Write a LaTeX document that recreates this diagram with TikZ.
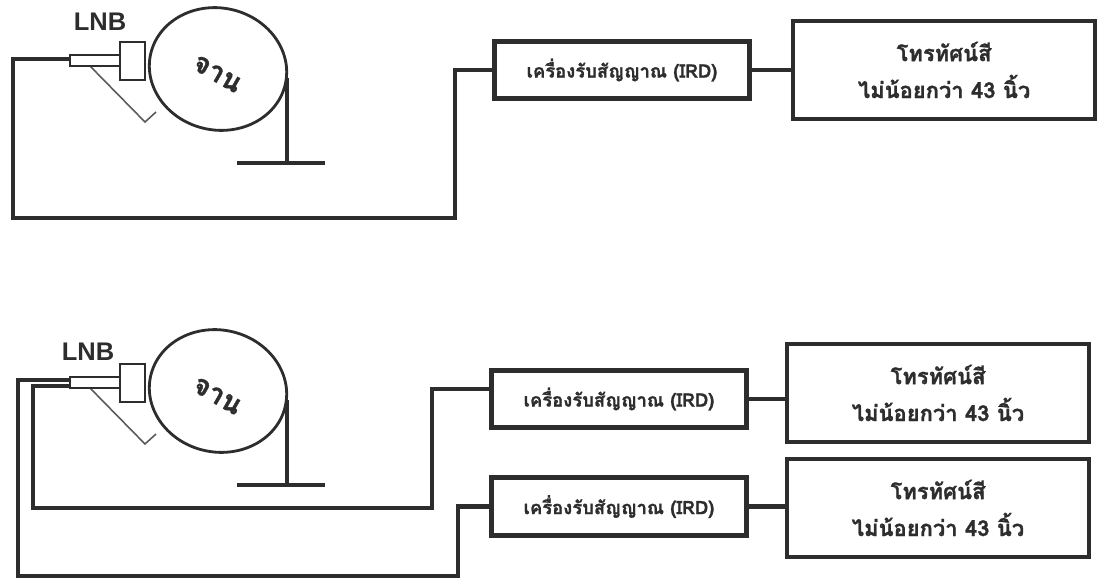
\documentclass[tikz,border=0pt]{standalone}
\usepackage{fontspec}
\setmainfont{Liberation Sans}
\newfontfamily\thaifont[Script=Thai, BoldFeatures={FakeBold=1.2}]{Loma}
\usetikzlibrary{positioning}
\definecolor{mydarkgrey}{RGB}{45, 45, 45}
\definecolor{mymidgrey}{RGB}{90, 90, 90}

\begin{document}
\begin{tikzpicture}[x = 0.02cm, y = -0.02cm, mydarkgrey,
  cable/.style = {line width = 2.4pt},
  irdbox/.style = {draw, line width = 2.9pt, minimum width = 5.1cm, minimum height = 1.15cm, inner sep = 0pt, font = \thaifont\bfseries\fontsize{10.5}{12}\selectfont},
  tvbox/.style = {draw, line width = 2.1pt, minimum width = 6.05cm, minimum height = 1.95cm, align = center, font = \thaifont\bfseries\fontsize{12.5}{21}\selectfont},
  lnblabel/.style = {font = \bfseries\fontsize{14.5}{16}\selectfont, inner sep = 0pt}]

  \useasboundingbox (0,0) rectangle (1099,581);

  % dishes
  \foreach \dy/\tag in {0/top, 322/bot} {
    \begin{scope}[shift = {(0,\dy)}]
      \draw[line width = 1.6pt, rotate around = {-12:(218,69)}] (218,69) ellipse [x radius = 69, y radius = 61];
      \node[rotate = -30, inner sep = 0pt, font = \thaifont\bfseries\fontsize{16}{17}\selectfont] (dish-\tag) at (217,74) {จาน};
      \draw[line width = 2.4pt] (287,78) -- (287,163);
      \draw[line width = 2.4pt] (237,163) -- (325,163);
      \draw[mymidgrey, line width = 0.9pt] (90,66) -- (145,122) -- (156,112);
      \draw[line width = 1.1pt, fill = white] (70,55) rectangle (120,66);
      \draw[line width = 1.6pt, fill = white] (120,42) rectangle (145,80);
    \end{scope}
  }
  \node[lnblabel] (lnb-label-top) at (100,22) {LNB};
  \node[lnblabel] (lnb-label-bot) at (88,352) {LNB};

  % boxes
  \node[irdbox] (ird-top) at (622,70) {เครื่องรับสัญญาณ (IRD)};
  \node[tvbox] [right = 0.78cm of ird-top] (tv-top) {โทรทัศน์สี\\ไม่น้อยกว่า 43 นิ้ว};
  \node[irdbox] (ird-1) at (619,399) {เครื่องรับสัญญาณ (IRD)};
  \node[irdbox] [below = 0.9cm of ird-1] (ird-2) {เครื่องรับสัญญาณ (IRD)};
  \node[tvbox] (tv-1) at (938,393) {โทรทัศน์สี\\ไม่น้อยกว่า 43 นิ้ว};
  \node[tvbox] (tv-2) at (938,508) {โทรทัศน์สี\\ไม่น้อยกว่า 43 นิ้ว};

  % cables
  \coordinate (lnb-top) at (70,59);
  \coordinate (bend-top-1) at (13,218);
  \coordinate (bend-top-2) at (455,218);
  \draw[cable] (lnb-top) -| (bend-top-1) -- (bend-top-2) |- (ird-top.west);
  \draw[cable] (ird-top.east) -- (ird-top.east -| tv-top.west);

  \coordinate (lnb-bot-a) at (70,386);
  \coordinate (bend-a-1) at (33,508);
  \coordinate (bend-a-2) at (432,508);
  \draw[cable] (lnb-bot-a) -| (bend-a-1) -- (bend-a-2) |- ([yshift = 0.2cm]ird-1.west);

  \coordinate (lnb-bot-b) at (70,380);
  \coordinate (bend-b-1) at (18,576);
  \coordinate (bend-b-2) at (458,576);
  \draw[cable] (lnb-bot-b) -| (bend-b-1) -- (bend-b-2) |- (ird-2.west);

  \draw[cable] (ird-1.east) -- (ird-1.east -| tv-1.west);
  \draw[cable] (ird-2.east) -- (ird-2.east -| tv-2.west);

\end{tikzpicture}
\end{document}
